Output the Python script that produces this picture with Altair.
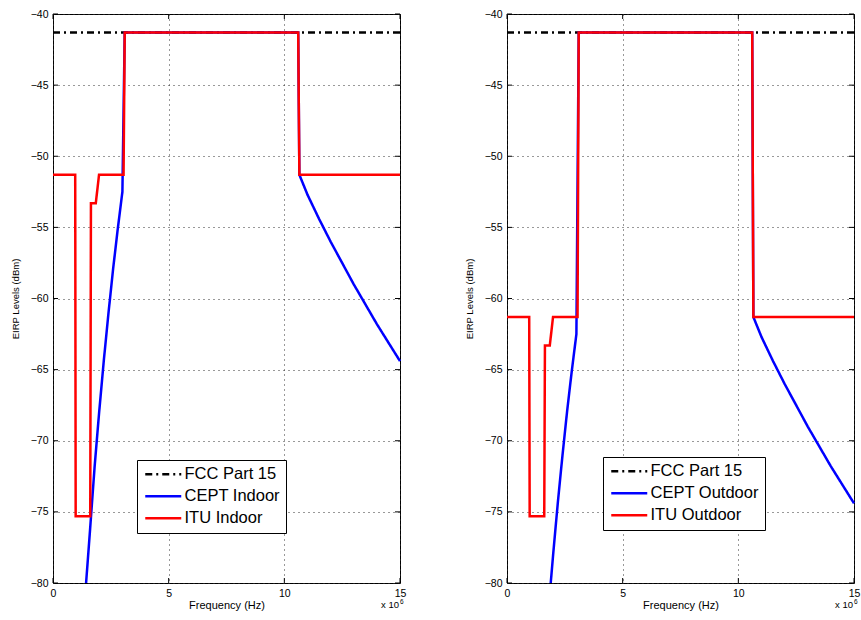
import altair as alt
import pandas as pd

FONT = "Liberation Sans"
W, H = 347, 569

x_ticks = [0, 5, 10, 15]
y_ticks = [-80, -75, -70, -65, -60, -55, -50, -45, -40]

fcc_freq = [0.0, 15.0]
fcc_level = [-41.3, -41.3]

cept_indoor_freq = [1.43, 1.6, 1.8, 2.0, 2.2, 2.4, 2.6, 2.8, 3.0, 3.1, 10.6, 10.65,
                    11.0, 11.5, 12.0, 12.5, 13.0, 13.5, 14.0, 14.5, 15.0]
cept_indoor_level = [-80.0, -76.3, -71.8, -67.9, -64.3, -61.0, -57.9, -55.1, -52.5, -41.3, -41.3, -51.3,
                     -52.7, -54.4, -56.0, -57.5, -59.0, -60.4, -61.8, -63.1, -64.4]

itu_indoor_freq = [0.0, 0.96, 0.98, 1.61, 1.64, 1.85, 1.99, 3.05, 3.1, 10.6, 10.65, 15.0]
itu_indoor_level = [-51.3, -51.3, -75.3, -75.3, -53.3, -53.3, -51.3, -51.3, -41.3, -41.3, -51.3, -51.3]

cept_outdoor_freq = [1.89, 2.0, 2.2, 2.4, 2.6, 2.8, 3.0, 3.1, 10.6, 10.65,
                     11.0, 11.5, 12.0, 12.5, 13.0, 13.5, 14.0, 14.5, 15.0]
cept_outdoor_level = [-80.0, -77.9, -74.3, -71.0, -67.9, -65.1, -62.5, -41.3, -41.3, -61.3,
                      -62.7, -64.4, -66.0, -67.5, -69.0, -70.4, -71.8, -73.1, -74.4]

itu_outdoor_freq = [0.0, 0.96, 0.98, 1.61, 1.64, 1.85, 1.99, 3.05, 3.1, 10.6, 10.65, 15.0]
itu_outdoor_level = [-61.3, -61.3, -75.3, -75.3, -63.3, -63.3, -61.3, -61.3, -41.3, -41.3, -61.3, -61.3]

indoor_names = ["FCC Part 15", "CEPT Indoor", "ITU Indoor"]
outdoor_names = ["FCC Part 15", "CEPT Outdoor", "ITU Outdoor"]
line_colors = ["#000000", "#0000ff", "#ff0000"]
line_dashes = [[7, 4, 2, 4], [1, 0], [1, 0]]


def make_df(freq, level, name):
    return pd.DataFrame({"freq": freq, "level": level, "series": name,
                         "idx": list(range(len(freq)))})


def panel(cept_f, cept_l, itu_f, itu_l, names, lx, ly):
    data = pd.concat([make_df(fcc_freq, fcc_level, names[0]),
                      make_df(cept_f, cept_l, names[1]),
                      make_df(itu_f, itu_l, names[2])], ignore_index=True)
    xs = alt.Scale(domain=[0, 15], nice=False, zero=False)
    ys = alt.Scale(domain=[-80, -40], nice=False, zero=False)
    xaxis = alt.Axis(values=x_ticks, title="Frequency (Hz)", grid=True, gridDash=[1, 4],
                     gridColor="#333333", gridOpacity=1, gridWidth=1, ticks=False, domain=False,
                     labelFont=FONT, labelFontSize=10.5, labelColor="black", labelPadding=5,
                     labelFlush=False, format="d",
                     titleFont=FONT, titleFontSize=11, titleFontWeight="normal",
                     titleColor="black", titlePadding=1)
    yaxis = alt.Axis(values=y_ticks, title="EIRP Levels (dBm)", grid=True, gridDash=[1, 4],
                     gridColor="#333333", gridOpacity=1, gridWidth=1, ticks=False, domain=False,
                     labelFont=FONT, labelFontSize=10.5, labelColor="black", labelPadding=5,
                     format="d",
                     titleFont=FONT, titleFontSize=9.5, titleFontWeight="normal",
                     titleColor="black", titlePadding=10)
    legend = alt.Legend(title=None, orient="none", legendX=lx, legendY=ly,
                        symbolType="M-3,0H3", symbolSize=144, symbolStrokeWidth=2.5,
                        symbolOffset=12, labelOffset=13,
                        labelFont=FONT, labelFontSize=16.5, labelColor="black",
                        strokeColor="black", fillColor="white", padding=6,
                        rowPadding=5)
    color = alt.Color("series:N", scale=alt.Scale(domain=names, range=line_colors), legend=legend)
    dash = alt.StrokeDash("series:N", scale=alt.Scale(domain=names, range=line_dashes), legend=legend)
    X = alt.X("freq:Q", scale=xs, axis=xaxis)
    Y = alt.Y("level:Q", scale=ys, axis=yaxis)

    base = alt.Chart(data)
    layers = []
    for name in names:
        layers.append(
            base.transform_filter(alt.datum.series == name)
            .mark_line(strokeWidth=2.5, strokeJoin="miter")
            .encode(x=X, y=Y, color=color, strokeDash=dash, order=alt.Order("idx:Q"))
        )

    ydf = pd.DataFrame({"level": y_ticks})
    xdf = pd.DataFrame({"freq": x_ticks})
    tick_l = alt.Chart(ydf).mark_rule(color="black").encode(
        y=Y, x=alt.value(0), x2=alt.value(5))
    tick_r = alt.Chart(ydf).mark_rule(color="black").encode(
        y=Y, x=alt.value(W - 5), x2=alt.value(W))
    tick_b = alt.Chart(xdf).mark_rule(color="black").encode(
        x=X, y=alt.value(H - 5), y2=alt.value(H))
    tick_t = alt.Chart(xdf).mark_rule(color="black").encode(
        x=X, y=alt.value(0), y2=alt.value(5))

    mult = alt.Chart(pd.DataFrame({"t": ["x 10"]})).mark_text(
        font=FONT, fontSize=9.5, align="right", baseline="alphabetic", color="black").encode(
        text="t:N", x=alt.value(W - 1), y=alt.value(H + 25))
    expo = alt.Chart(pd.DataFrame({"t": ["6"]})).mark_text(
        font=FONT, fontSize=6.5, align="left", baseline="alphabetic", color="black").encode(
        text="t:N", x=alt.value(W), y=alt.value(H + 21))

    return alt.layer(*layers, tick_l, tick_r, tick_b, tick_t, mult, expo).properties(
        width=W, height=H)


left = panel(cept_indoor_freq, cept_indoor_level, itu_indoor_freq, itu_indoor_level,
             indoor_names, 84, 446)
right = panel(cept_outdoor_freq, cept_outdoor_level, itu_outdoor_freq, itu_outdoor_level,
              outdoor_names, 96, 443)

chart = alt.hconcat(left, right, spacing=56).resolve_scale(
    color="independent", strokeDash="independent"
).properties(
    padding={"left": 9, "top": 8, "right": 0, "bottom": 0},
    background="white",
).configure_view(stroke="black", strokeWidth=1)

chart.save("out.html", embed_options={"renderer": "svg", "actions": False})
